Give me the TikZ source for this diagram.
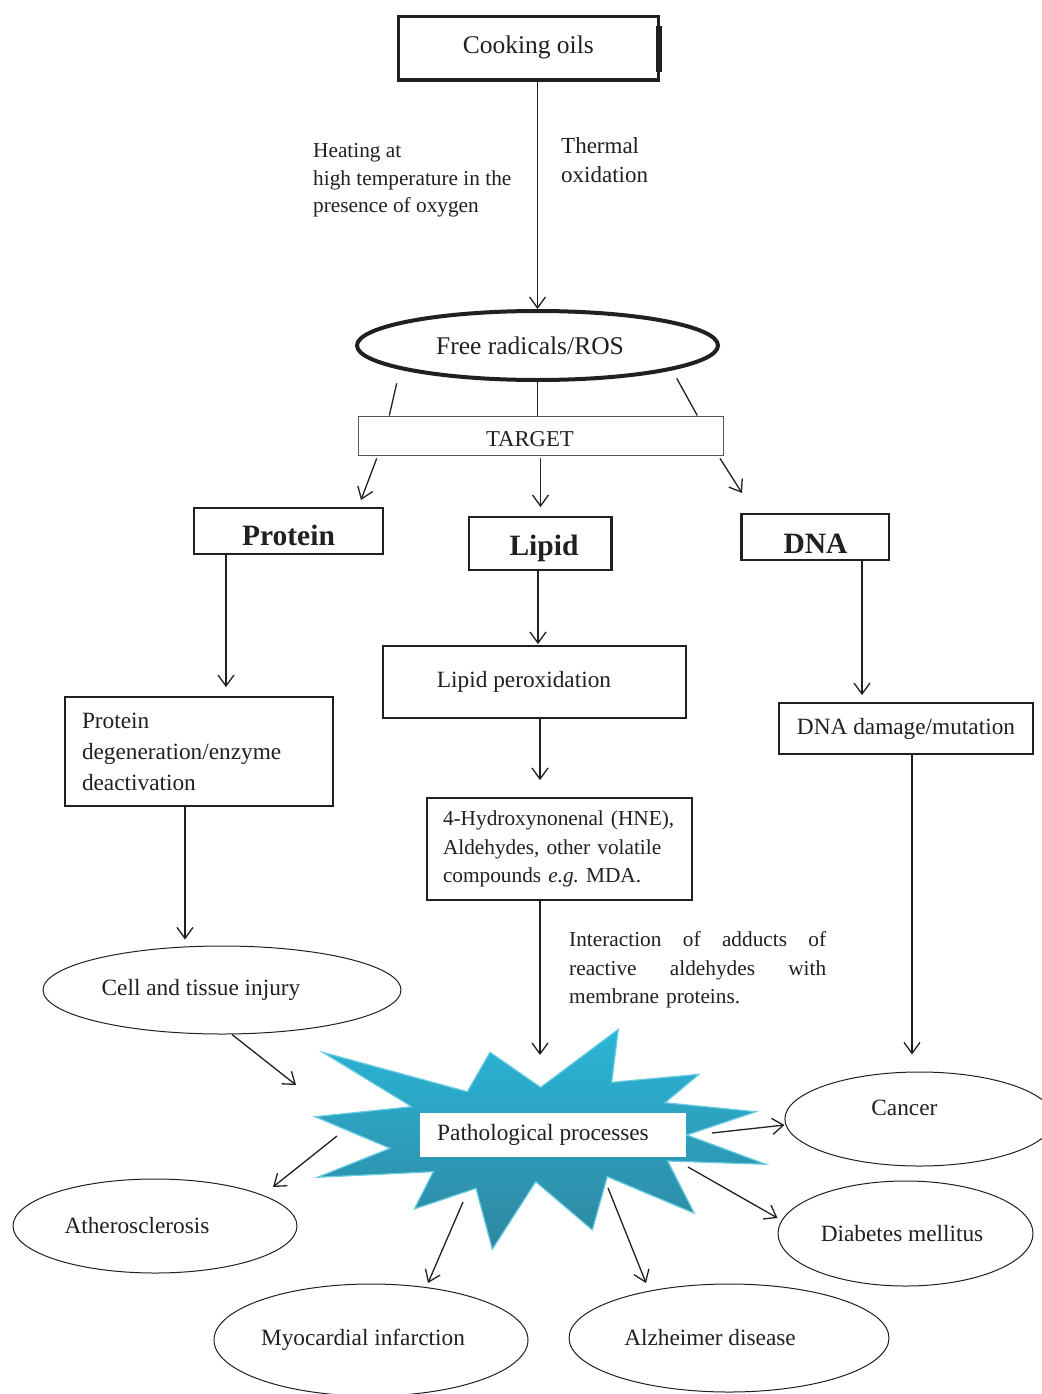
\documentclass[tikz,border=0pt]{standalone}
\usepackage{fontspec}
\setmainfont{Liberation Serif}
\usetikzlibrary{arrows.meta,shapes.geometric,calc}
\definecolor{ink}{HTML}{231F20}
\definecolor{starTop}{HTML}{2AB6D7}
\definecolor{starBot}{HTML}{2F86A0}
\definecolor{starEdge}{HTML}{6ACCE2}
\newcommand\fsbig{\fontsize{25.5}{30}\selectfont}
\newcommand\fsmain{\fontsize{23.3}{31}\selectfont}
\newcommand\fssmall{\fontsize{21.3}{28.3}\selectfont}
\newcommand\fsheat{\fontsize{21.3}{27.7}\selectfont}
\newcommand\fsthm{\fontsize{23}{29}\selectfont}
\newcommand\fstgt{\fontsize{22.7}{27}\selectfont}
\newcommand\fsbold{\fontsize{29.5}{34}\selectfont\bfseries}
\begin{document}
\begin{tikzpicture}[x=1pt,y=-1pt,
  arr/.style={draw=ink, line width=1.3pt, -{Straight Barb[length=11pt,width=16pt,line width=1.3pt]}},
  ln/.style={draw=ink, line width=1.3pt},
  box/.style={draw=ink, line width=1.8pt, rectangle, inner sep=0pt, text=ink},
  oval/.style={draw=ink, line width=1pt, ellipse, inner sep=0pt, text=ink, font=\fsmain},
  txt/.style={inner sep=0pt, text=ink}]
\useasboundingbox[fill=white] (0,0) rectangle (1041,1394);

% top
\node[box, line width=3.3pt, minimum width=260pt, minimum height=63.3pt, font=\fsbig, text height=17pt, text depth=7pt] (cook) at (528.3,48.3) {Cooking oils};
\draw[ink, line width=5.5pt] ([xshift=-1pt,yshift=-11.3pt]cook.north east) -- ([xshift=-1pt,yshift=9.3pt]cook.south east);
% base anchor of a multi-line node = baseline of its last line
\node[txt, anchor=base west, align=left, font=\fsheat] (heat) at (313,212.7) {Heating at\\high temperature in the\\presence of oxygen};
\node[txt, anchor=base west, align=left, font=\fsthm] (therm) at (561,182.5) {Thermal\\oxidation};

\node[oval, line width=4pt, minimum width=361pt, minimum height=69pt, font=\fsbig] (fr) at (537.5,345.5) {\hspace*{-15pt}Free radicals/ROS};
\draw[arr] (cook.south -| fr.north) -- (fr.north);

\node[box, draw=ink!75, line width=0.9pt, minimum width=365pt, minimum height=39pt, font=\fstgt, text height=21pt, text depth=0pt] (target) at (540.5,435.5) {\hspace*{-21pt}TARGET};
\coordinate (fl) at (396.7,383.3);
\coordinate (frr) at (676.7,378.3);
\draw[ln] (fl) -- ([xshift=-151.2pt]target.north);
\draw[ln] (fr.south) -- (fr.south |- target.north);
\draw[ln] (frr) -- ([xshift=156.8pt]target.north);

% second row
\node[box, minimum width=189pt, minimum height=46pt, font=\fsbold, text height=28pt, text depth=0pt] (protein) at (288.5,531) {Protein};
\node[box, minimum width=142pt, minimum height=53pt, font=\fsbold, text height=23pt, text depth=0pt] (lipid) at (540,543.5) {\hspace*{8pt}Lipid};
\node[box, minimum width=147pt, minimum height=46pt, font=\fsbold, text height=32pt, text depth=0pt] (dna) at (815.5,537) {DNA};
\draw[ink, line width=3.2pt] ([xshift=-0.5pt]lipid.north east) -- ([xshift=-0.5pt]lipid.south east);
\draw[ink, line width=3pt] ([xshift=0.5pt]dna.north west) -- ([xshift=0.5pt]dna.south west);

\coordinate (tlt) at (361,500);
\coordinate (trt) at (742,493);
\draw[arr] ([xshift=-163.8pt,yshift=-3pt]target.south) -- (tlt);
\draw[arr, shorten <=3pt, shorten >=9pt] (target.south) -- (target.south |- lipid.north);
\draw[arr] ([xshift=179.5pt,yshift=-3pt]target.south) -- (trt);

% protein branch
\node[box, minimum width=268pt, minimum height=109pt, font=\fsmain, text width=234pt, align=left, inner xsep=17pt] (pdeg) at (199,751.5) {Protein\\degeneration/enzyme\\deactivation};
\draw[arr, shorten >=9pt] ([xshift=-62.5pt]protein.south) -- ([xshift=-62.5pt]protein.south |- pdeg.north);
\node[oval, minimum width=358pt, minimum height=88pt] (cell) at (222,990) {\hspace*{-42pt}Cell and tissue injury};
\draw[arr, shorten >=6pt] ([xshift=-14pt]pdeg.south) -- ([xshift=-14pt]pdeg.south |- cell.north);

% lipid branch
\node[box, minimum width=303pt, minimum height=72pt, font=\fsmain] (lperox) at (534.5,682) {\hspace*{-21pt}Lipid peroxidation};
\draw[arr, shorten >=1pt] ([xshift=-2pt]lipid.south) -- ([xshift=-2pt]lipid.south |- lperox.north);
\node[box, minimum width=265pt, minimum height=102pt, font=\fssmall, text width=233pt, align=left, inner xsep=16pt] (hne) at (559.5,849) {4-Hydroxynonenal (HNE),\\Aldehydes, other volatile\\compounds \textit{e.g.}\ MDA.};
\draw[arr, shorten >=17pt] ([xshift=5.5pt]lperox.south) -- ([xshift=5.5pt]lperox.south |- hne.north);
\node[txt, anchor=base west, text width=257pt, align=left, font=\fssmall] (inter) at (569,946.7) {Interaction\hfill of\hfill adducts\hfill of\\reactive\hfill aldehydes\hfill with\\membrane proteins.};

% DNA branch
\node[box, minimum width=254pt, minimum height=51pt, font=\fsmain] (dnadmg) at (906,728.5) {DNA damage/mutation};
\draw[arr, shorten >=7pt] ([xshift=46.5pt]dna.south) -- ([xshift=46.5pt]dna.south |- dnadmg.north);

% star
\draw[draw=starEdge, line width=1.2pt, top color=starTop, bottom color=starBot]
  (322.7,1052.3) -- (467.3,1091.7) -- (490,1052.3) -- (540.7,1087.3) -- (618.3,1029.3)
  -- (611.7,1082.3) -- (699,1074.3) -- (665,1102.7) -- (756,1111.7) -- (686.7,1135)
  -- (766,1164.3) -- (667.7,1161) -- (694.3,1213.3) -- (607.3,1176.7) -- (592.3,1230)
  -- (535.7,1181.7) -- (492.3,1249.3) -- (476,1188.3) -- (414.3,1209) -- (433.3,1171.7)
  -- (317.3,1177.3) -- (390,1148.3) -- (315,1116.7) -- (411.7,1106.7) -- cycle;
\node[fill=white, minimum width=266pt, minimum height=44pt, inner sep=0pt, font=\fsmain, text=ink] (path) at (553,1135) {\hspace*{-20pt}Pathological processes};

% outcome ellipses
\node[oval, minimum width=269pt, minimum height=94pt, text height=16pt, text depth=24pt] (cancer) at (919.4,1119) {\hspace*{-30pt}Cancer};
\node[oval, minimum width=255pt, minimum height=105pt] (diab) at (905.5,1233.5) {\hspace*{-7pt}Diabetes mellitus};
\node[oval, minimum width=284pt, minimum height=94pt] (ather) at (155,1226) {\hspace*{-36pt}Atherosclerosis};
\node[oval, minimum width=314pt, minimum height=112pt] (myo) at (371,1340) {\hspace*{-16pt}Myocardial infarction};
\node[oval, minimum width=320pt, minimum height=108pt] (alz) at (729,1338) {\hspace*{-38pt}Alzheimer disease};

% connectors into / out of star
\coordinate (hs) at (540,1055);
\coordinate (cs) at (296,1085);
\draw[arr] ([xshift=-19.5pt]hne.south) -- (hs);
\draw[arr, shorten >=17pt] ([xshift=6pt]dnadmg.south) -- ([xshift=6pt]dnadmg.south |- cancer.north);
\draw[arr] ([xshift=10pt]cell.south) -- (cs);

\coordinate (s1) at (712,1133);
\coordinate (s2) at (688,1167);
\coordinate (s3) at (608,1188);
\coordinate (s4) at (463,1202);
\coordinate (s5) at (337,1136);
\coordinate (t3) at (646,1283);
\coordinate (t4) at (428,1283);
\coordinate (t5) at (273,1187);
\draw[arr] (s1) -- ([yshift=-6pt]cancer.west);
\draw[arr] (s2) -- ([yshift=15.5pt]diab.west);
\draw[arr] (s3) -- (t3);
\draw[arr] (s4) -- (t4);
\draw[arr] (s5) -- (t5);
\end{tikzpicture}
\end{document}
